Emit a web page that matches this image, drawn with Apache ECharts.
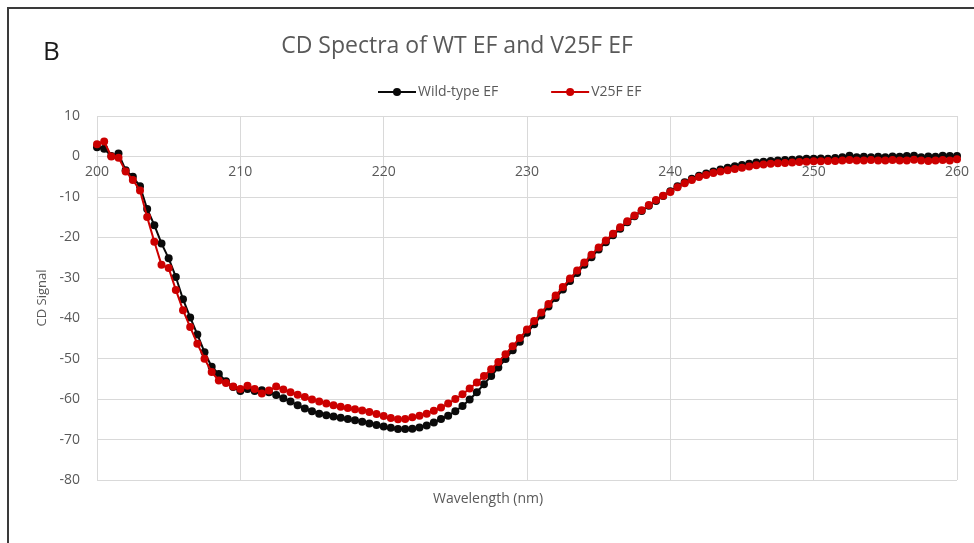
<!DOCTYPE html>
<html>
<head>
<meta charset="utf-8">
<title>CD Spectra of WT EF and V25F EF</title>
<script src="https://cdn.jsdelivr.net/npm/echarts@6/dist/echarts.min.js"></script>
<style>
  html, body { margin: 0; padding: 0; background: #ffffff; }
  #chart { width: 974px; height: 543px; }
</style>
</head>
<body>
<div id="chart"></div>
<script>
// Wavelength of each reading (nm)
const wavelengths = [
  200, 200.5, 201, 201.5, 202, 202.5, 203, 203.5, 204, 204.5,
  205, 205.5, 206, 206.5, 207, 207.5, 208, 208.5, 209, 209.5,
  210, 210.5, 211, 211.5, 212, 212.5, 213, 213.5, 214, 214.5,
  215, 215.5, 216, 216.5, 217, 217.5, 218, 218.5, 219, 219.5,
  220, 220.5, 221, 221.5, 222, 222.5, 223, 223.5, 224, 224.5,
  225, 225.5, 226, 226.5, 227, 227.5, 228, 228.5, 229, 229.5,
  230, 230.5, 231, 231.5, 232, 232.5, 233, 233.5, 234, 234.5,
  235, 235.5, 236, 236.5, 237, 237.5, 238, 238.5, 239, 239.5,
  240, 240.5, 241, 241.5, 242, 242.5, 243, 243.5, 244, 244.5,
  245, 245.5, 246, 246.5, 247, 247.5, 248, 248.5, 249, 249.5,
  250, 250.5, 251, 251.5, 252, 252.5, 253, 253.5, 254, 254.5,
  255, 255.5, 256, 256.5, 257, 257.5, 258, 258.5, 259, 259.5,
  260
];

// CD signal, wild-type EF
const wildTypeEF = [
  2.3, 1.9, 0.1, 0.7, -3.4, -5.0, -7.4, -13.0, -17.0, -21.5,
  -25.2, -29.8, -35.3, -39.8, -44.0, -48.4, -52.0, -53.8, -55.6, -57.0,
  -58.0, -57.5, -58.0, -57.8, -58.3, -59.0, -59.8, -60.6, -61.5, -62.3,
  -63.0, -63.6, -64.0, -64.3, -64.6, -64.9, -65.2, -65.6, -66.0, -66.4,
  -66.8, -67.1, -67.4, -67.4, -67.3, -67.0, -66.5, -65.8, -64.9, -64.1,
  -63.0, -61.7, -60.1, -58.3, -56.3, -54.3, -52.2, -50.1, -47.9, -45.8,
  -43.6, -41.5, -39.3, -37.1, -35.0, -32.9, -30.8, -28.8, -26.8, -24.9,
  -23.0, -21.2, -19.5, -17.9, -16.3, -14.8, -13.5, -12.2, -11.0, -9.8,
  -8.6, -7.4, -6.4, -5.5, -4.8, -4.2, -3.7, -3.2, -2.8, -2.4,
  -2.1, -1.8, -1.5, -1.3, -1.1, -1.0, -0.9, -0.8, -0.7, -0.6,
  -0.6, -0.5, -0.6, -0.4, -0.2, 0.2, -0.2, -0.1, -0.2, -0.1,
  -0.2, 0.0, -0.1, 0.1, 0.2, -0.2, 0.0, -0.1, 0.2, 0.1,
  0.1
];

// CD signal, V25F EF
const v25fEF = [
  3.0, 3.7, 0.0, -0.3, -3.7, -5.8, -8.4, -15.0, -21.1, -26.8,
  -27.6, -33.0, -38.0, -42.2, -46.3, -50.0, -53.3, -55.4, -56.0, -56.9,
  -57.5, -56.7, -57.5, -58.6, -57.9, -56.9, -57.6, -58.3, -58.9, -59.5,
  -60.1, -60.6, -61.1, -61.5, -61.9, -62.2, -62.5, -62.8, -63.2, -63.7,
  -64.2, -64.7, -65.0, -64.9, -64.5, -64.1, -63.6, -62.9, -62.1, -61.1,
  -60.0, -58.8, -57.4, -55.9, -54.3, -52.6, -50.8, -48.9, -46.9, -44.9,
  -42.8, -40.7, -38.6, -36.5, -34.4, -32.3, -30.2, -28.2, -26.2, -24.3,
  -22.5, -20.8, -19.1, -17.5, -16.0, -14.6, -13.3, -12.0, -10.8, -9.7,
  -8.8, -7.6, -6.6, -5.8, -5.1, -4.6, -4.1, -3.7, -3.4, -3.1,
  -2.8, -2.5, -2.2, -2.0, -1.8, -1.7, -1.6, -1.5, -1.4, -1.3,
  -1.2, -1.2, -1.1, -1.1, -1.0, -0.9, -1.0, -1.0, -0.9, -1.0,
  -1.0, -0.9, -1.0, -1.0, -0.8, -1.0, -1.1, -1.0, -0.9, -1.0,
  -0.7
];

const seriesNames = ['Wild-type EF', 'V25F EF'];
const seriesColors = ['#0a0a0a', '#cc0000'];

const xTicks = { min: 200, max: 260, step: 10 };
const yTicks = { min: -80, max: 10, step: 10 };

const pairs = (ys) => wavelengths.map((w, i) => [w, ys[i]]);

const gridColor = '#d9d9d9';
const textColor = '#595959';
const fontFamily = '"Open Sans", "Noto Sans", sans-serif';

// plot box in pixels
const plot = { left: 97, right: 17, top: 116, bottom: 63 };
const plotHeight = 543 - plot.top - plot.bottom;
// the wavelength labels sit on the zero line, so lift the x axis up to y = 0
const zeroLift = plotHeight * (0 - yTicks.min) / (yTicks.max - yTicks.min);

const chart = echarts.init(document.getElementById('chart'), null, { renderer: 'canvas' });

chart.setOption({
  backgroundColor: '#ffffff',
  animation: false,
  title: [
    {
      text: 'B',
      left: 38, top: 35,
      textStyle: { fontSize: 26, fontWeight: 'normal', color: '#1a1a1a', fontFamily: fontFamily }
    },
    {
      text: 'CD Spectra of WT EF and V25F EF',
      left: 452, top: 30, textAlign: 'center',
      textStyle: { fontSize: 23, fontWeight: 'normal', color: textColor, fontFamily: fontFamily }
    }
  ],
  legend: {
    data: seriesNames,
    left: 372, top: 80,
    itemWidth: 38, itemHeight: 10,
    itemGap: 52,
    textStyle: { fontSize: 14, color: textColor, fontFamily: fontFamily, padding: [0, 0, 0, -3] }
  },
  grid: { left: plot.left, right: plot.right, top: plot.top, bottom: plot.bottom, containLabel: false },
  xAxis: {
    type: 'value',
    position: 'bottom',
    offset: -zeroLift,
    min: xTicks.min, max: xTicks.max, interval: xTicks.step,
    axisLine: { show: true, onZero: false, lineStyle: { color: gridColor, width: 1 } },
    axisTick: { show: false },
    axisLabel: { color: textColor, fontSize: 14, margin: 9, fontFamily: fontFamily },
    splitLine: { show: true, lineStyle: { color: gridColor, width: 1 } }
  },
  yAxis: {
    type: 'value',
    min: yTicks.min, max: yTicks.max, interval: yTicks.step,
    name: 'CD Signal',
    nameLocation: 'middle', nameGap: 46, nameRotate: 90,
    nameTextStyle: { color: textColor, fontSize: 13, fontFamily: fontFamily },
    axisLine: { show: false },
    axisTick: { show: false },
    axisLabel: { color: textColor, fontSize: 14, margin: 17, fontFamily: fontFamily },
    splitLine: { show: true, lineStyle: { color: gridColor, width: 1 } }
  },
  graphic: [
    {
      type: 'polyline',
      shape: { points: [[8, 543], [8, 8], [974, 8]] },
      style: { stroke: '#3a3a3a', lineWidth: 2, fill: null },
      silent: true
    },
    {
      type: 'text',
      left: 433, top: 492,
      style: { text: 'Wavelength (nm)', fill: textColor, font: '14px ' + fontFamily },
      silent: true
    }
  ],
  series: [
    {
      name: seriesNames[0],
      type: 'line',
      data: pairs(wildTypeEF),
      symbol: 'circle', symbolSize: 8,
      lineStyle: { color: seriesColors[0], width: 2 },
      itemStyle: { color: seriesColors[0] },
      z: 2
    },
    {
      name: seriesNames[1],
      type: 'line',
      data: pairs(v25fEF),
      symbol: 'circle', symbolSize: 8,
      lineStyle: { color: seriesColors[1], width: 2 },
      itemStyle: { color: seriesColors[1] },
      z: 3
    }
  ]
});
</script>
</body>
</html>
